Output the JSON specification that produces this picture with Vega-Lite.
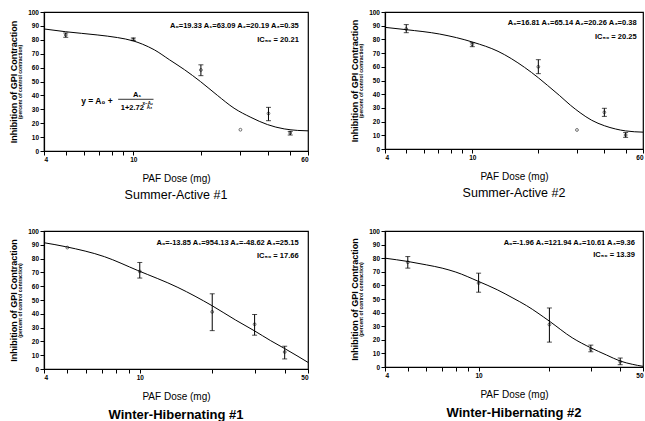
{
  "$schema": "https://vega.github.io/schema/vega-lite/v6.json",
  "padding": {"left": 8, "top": 8, "right": 0, "bottom": 0},
  "background": "white",
  "spacing": 24,
  "config": {
    "view": {"stroke": "black", "strokeWidth": 1.2},
    "axis": {"grid": false, "domainColor": "black", "domainWidth": 1.2, "tickColor": "black", "tickSize": 4, "labelColor": "black", "titleColor": "black", "labelFont": "Liberation Sans", "titleFont": "Liberation Sans", "labelFontSize": 6.5, "labelFontWeight": "bold", "titleFontWeight": "bold", "labelPadding": 1.5},
    "title": {"font": "Liberation Sans", "fontSize": 12.5, "fontWeight": "normal", "color": "black"},
    "text": {"font": "Liberation Sans", "color": "black"}
  },
  "datasets": {
    "pts": [
      {"panel": "SA1", "dose": 5, "mean": 83.5, "lo": 81.8, "hi": 84.9},
      {"panel": "SA1", "dose": 10, "mean": 80.3, "lo": 79.4, "hi": 81.3},
      {"panel": "SA1", "dose": 20, "mean": 58.3, "lo": 54.2, "hi": 62},
      {"panel": "SA1", "dose": 30, "mean": 15.3, "lo": null, "hi": null},
      {"panel": "SA1", "dose": 40, "mean": 27, "lo": 21.8, "hi": 31.4},
      {"panel": "SA1", "dose": 50, "mean": 13, "lo": 11.5, "hi": 14.1},
      {"panel": "SA2", "dose": 5, "mean": 87.6, "lo": 84.9, "hi": 90.8},
      {"panel": "SA2", "dose": 10, "mean": 76.4, "lo": 74.7, "hi": 77.6},
      {"panel": "SA2", "dose": 20, "mean": 60, "lo": 55, "hi": 65.2},
      {"panel": "SA2", "dose": 30, "mean": 13.9, "lo": null, "hi": null},
      {"panel": "SA2", "dose": 40, "mean": 26.8, "lo": 23.8, "hi": 29.7},
      {"panel": "SA2", "dose": 50, "mean": 10.2, "lo": 8.5, "hi": 12},
      {"panel": "WH1", "dose": 5, "mean": 88, "lo": null, "hi": null},
      {"panel": "WH1", "dose": 10, "mean": 70.7, "lo": 65.9, "hi": 77.2},
      {"panel": "WH1", "dose": 20, "mean": 41.4, "lo": 27.8, "hi": 54.5},
      {"panel": "WH1", "dose": 30, "mean": 32.4, "lo": 24.5, "hi": 39.5},
      {"panel": "WH1", "dose": 40, "mean": 12.3, "lo": 7.3, "hi": 16.5},
      {"panel": "WH2", "dose": 5, "mean": 77, "lo": 72.7, "hi": 81.2},
      {"panel": "WH2", "dose": 10, "mean": 61.7, "lo": 55, "hi": 69},
      {"panel": "WH2", "dose": 20, "mean": 31.2, "lo": 18.3, "hi": 43.4},
      {"panel": "WH2", "dose": 30, "mean": 13, "lo": 11.2, "hi": 16.1},
      {"panel": "WH2", "dose": 40, "mean": 3.9, "lo": 1.7, "hi": 6.6}
    ],
    "curve": [
      {"panel": "SA1", "dose": 4, "y": 87.8}, {"panel": "SA1", "dose": 5, "y": 85.8}, {"panel": "SA1", "dose": 6.9, "y": 83.5}, {"panel": "SA1", "dose": 8.5, "y": 81.6}, {"panel": "SA1", "dose": 10, "y": 79.2}, {"panel": "SA1", "dose": 11, "y": 76.8}, {"panel": "SA1", "dose": 12.4, "y": 72.8}, {"panel": "SA1", "dose": 14.5, "y": 65.6}, {"panel": "SA1", "dose": 16.9, "y": 58.5}, {"panel": "SA1", "dose": 19.9, "y": 50}, {"panel": "SA1", "dose": 23.7, "y": 40}, {"panel": "SA1", "dose": 28.1, "y": 30.8}, {"panel": "SA1", "dose": 33.4, "y": 24.2}, {"panel": "SA1", "dose": 39.6, "y": 19}, {"panel": "SA1", "dose": 47, "y": 15.9}, {"panel": "SA1", "dose": 54, "y": 14.8}, {"panel": "SA1", "dose": 60, "y": 14.5},
      {"panel": "SA2", "dose": 4, "y": 88.8}, {"panel": "SA2", "dose": 5, "y": 87.1}, {"panel": "SA2", "dose": 7.1, "y": 83.9}, {"panel": "SA2", "dose": 10.1, "y": 77.9}, {"panel": "SA2", "dose": 13.1, "y": 71.3}, {"panel": "SA2", "dose": 17.3, "y": 59.6}, {"panel": "SA2", "dose": 20, "y": 52}, {"panel": "SA2", "dose": 22, "y": 46.5}, {"panel": "SA2", "dose": 25, "y": 39}, {"panel": "SA2", "dose": 28, "y": 32}, {"panel": "SA2", "dose": 31, "y": 26.5}, {"panel": "SA2", "dose": 35, "y": 21}, {"panel": "SA2", "dose": 40, "y": 17}, {"panel": "SA2", "dose": 45, "y": 14.6}, {"panel": "SA2", "dose": 50, "y": 13.2}, {"panel": "SA2", "dose": 60, "y": 12.3},
      {"panel": "WH1", "dose": 4, "y": 91.5}, {"panel": "WH1", "dose": 4.93, "y": 88.6}, {"panel": "WH1", "dose": 7.13, "y": 81.4}, {"panel": "WH1", "dose": 9.8, "y": 71.4}, {"panel": "WH1", "dose": 14.4, "y": 59.1}, {"panel": "WH1", "dose": 20, "y": 45.8}, {"panel": "WH1", "dose": 25, "y": 35.5}, {"panel": "WH1", "dose": 30, "y": 27.6}, {"panel": "WH1", "dose": 35, "y": 20.5}, {"panel": "WH1", "dose": 40, "y": 14.8}, {"panel": "WH1", "dose": 45, "y": 9.6}, {"panel": "WH1", "dose": 50, "y": 4.8},
      {"panel": "WH2", "dose": 4, "y": 80}, {"panel": "WH2", "dose": 5, "y": 77.6}, {"panel": "WH2", "dose": 6, "y": 75.1}, {"panel": "WH2", "dose": 7, "y": 72.7}, {"panel": "WH2", "dose": 8, "y": 69.8}, {"panel": "WH2", "dose": 10, "y": 62.9}, {"panel": "WH2", "dose": 12, "y": 56.8}, {"panel": "WH2", "dose": 14, "y": 50.7}, {"panel": "WH2", "dose": 16, "y": 45.1}, {"panel": "WH2", "dose": 20, "y": 33.7}, {"panel": "WH2", "dose": 25, "y": 21.5}, {"panel": "WH2", "dose": 30, "y": 14.1}, {"panel": "WH2", "dose": 35, "y": 8.8}, {"panel": "WH2", "dose": 40, "y": 4.4}, {"panel": "WH2", "dose": 45, "y": 2}, {"panel": "WH2", "dose": 50, "y": 0.5}
    ]
  },
  "vconcat": [
    {
      "spacing": 38,
      "hconcat": [
        {
          "width": 264, "height": 139,
          "title": {"text": "Summer-Active #1", "orient": "bottom", "offset": 6},
          "layer": [
            {"data": {"name": "curve"}, "transform": [{"filter": "datum.panel==='SA1'"}], "mark": {"type": "line", "color": "black", "strokeWidth": 1, "interpolate": "monotone"},
             "encoding": {
               "x": {"field": "dose", "type": "quantitative", "scale": {"type": "log", "domain": [4, 60], "nice": false}, "axis": {"values": [4, 5, 6, 7, 8, 9, 10, 20, 30, 40, 50, 60], "labelExpr": "datum.value==4||datum.value==10||datum.value==60 ? datum.value+'' : ''", "labelOverlap": false, "title": "PAF Dose (mg)", "titleFontSize": 10, "titleFontWeight": "normal", "titlePadding": 10}},
               "y": {"field": "y", "type": "quantitative", "scale": {"domain": [0, 100], "nice": false}, "axis": {"values": [0, 10, 20, 30, 40, 50, 60, 70, 80, 90, 100], "title": "(percent of control contraction)", "titleFontSize": 5, "titlePadding": 5}}}},
            {"data": {"name": "pts"}, "transform": [{"filter": "datum.panel==='SA1'"}], "mark": {"type": "rule", "color": "black", "strokeWidth": 1},
             "encoding": {"x": {"field": "dose", "type": "quantitative", "axis": null}, "y": {"field": "lo", "type": "quantitative", "axis": null}, "y2": {"field": "hi"}}},
            {"data": {"name": "pts"}, "transform": [{"filter": "datum.panel==='SA1'"}], "mark": {"type": "tick", "orient": "horizontal", "color": "black", "size": 5, "thickness": 1},
             "encoding": {"x": {"field": "dose", "type": "quantitative", "axis": null}, "y": {"field": "lo", "type": "quantitative", "axis": null}}},
            {"data": {"name": "pts"}, "transform": [{"filter": "datum.panel==='SA1'"}], "mark": {"type": "tick", "orient": "horizontal", "color": "black", "size": 5, "thickness": 1},
             "encoding": {"x": {"field": "dose", "type": "quantitative", "axis": null}, "y": {"field": "hi", "type": "quantitative", "axis": null}}},
            {"data": {"name": "pts"}, "transform": [{"filter": "datum.panel==='SA1'"}], "mark": {"type": "point", "shape": "circle", "filled": false, "size": 8, "color": "black", "strokeWidth": 0.8},
             "encoding": {"x": {"field": "dose", "type": "quantitative", "axis": null}, "y": {"field": "mean", "type": "quantitative", "axis": {"orient": "left", "labels": false, "ticks": false, "domain": false, "title": "Inhibition of GPI Contraction", "titleFontSize": 9, "titlePadding": 26}}}},
            {"data": {"values": [{}]}, "mark": {"type": "text", "text": "A₀=19.33  A₁=63.09  A₂=20.19  A₃=0.35", "align": "right", "baseline": "middle", "fontSize": 7.5, "fontWeight": "bold"},
             "encoding": {"x": {"datum": 54.6, "axis": null}, "y": {"datum": 90.2, "axis": null}}},
            {"data": {"values": [{}]}, "mark": {"type": "text", "text": "IC₅₀ = 20.21", "align": "right", "baseline": "middle", "fontSize": 7.5, "fontWeight": "bold"},
             "encoding": {"x": {"datum": 54.6, "axis": null}, "y": {"datum": 80.1, "axis": null}}},
            {"data": {"values": [{}]}, "mark": {"type": "text", "text": "y = A₀ +", "align": "left", "baseline": "middle", "fontSize": 8.5, "fontWeight": "bold"},
             "encoding": {"x": {"datum": 5.86, "axis": null}, "y": {"datum": 36.2, "axis": null}}},
            {"data": {"values": [{}]}, "mark": {"type": "rule", "color": "black", "strokeWidth": 0.8},
             "encoding": {"x": {"datum": 8.56, "axis": null}, "x2": {"datum": 12.3}, "y": {"datum": 37.2, "axis": null}}},
            {"data": {"values": [{}]}, "mark": {"type": "text", "text": "A₁", "align": "center", "baseline": "middle", "fontSize": 7.5, "fontWeight": "bold"},
             "encoding": {"x": {"datum": 10.4, "axis": null}, "y": {"datum": 40.5, "axis": null}}},
            {"data": {"values": [{}]}, "mark": {"type": "text", "text": "1+2.72", "align": "center", "baseline": "middle", "fontSize": 7.5, "fontWeight": "bold"},
             "encoding": {"x": {"datum": 9.9, "axis": null}, "y": {"datum": 30.7, "axis": null}}},
            {"data": {"values": [{}]}, "mark": {"type": "text", "text": "x−A₂", "align": "center", "baseline": "middle", "fontSize": 4.5, "fontWeight": "bold"},
             "encoding": {"x": {"datum": 11.6, "axis": null}, "y": {"datum": 34, "axis": null}}},
            {"data": {"values": [{}]}, "mark": {"type": "text", "text": "A₃", "align": "center", "baseline": "middle", "fontSize": 4.5, "fontWeight": "bold"},
             "encoding": {"x": {"datum": 11.8, "axis": null}, "y": {"datum": 30.8, "axis": null}}}
          ],
          "resolve": {"axis": {"x": "independent", "y": "independent"}}
        },
        {
          "width": 258, "height": 137,
          "title": {"text": "Summer-Active #2", "orient": "bottom", "offset": 6},
          "layer": [
            {"data": {"name": "curve"}, "transform": [{"filter": "datum.panel==='SA2'"}], "mark": {"type": "line", "color": "black", "strokeWidth": 1, "interpolate": "monotone"},
             "encoding": {
               "x": {"field": "dose", "type": "quantitative", "scale": {"type": "log", "domain": [4, 60], "nice": false}, "axis": {"values": [4, 5, 6, 7, 8, 9, 10, 20, 30, 40, 50, 60], "labelExpr": "datum.value==4||datum.value==10||datum.value==60 ? datum.value+'' : ''", "labelOverlap": false, "title": "PAF Dose (mg)", "titleFontSize": 10, "titleFontWeight": "normal", "titlePadding": 10}},
               "y": {"field": "y", "type": "quantitative", "scale": {"domain": [0, 100], "nice": false}, "axis": {"values": [0, 10, 20, 30, 40, 50, 60, 70, 80, 90, 100], "title": "(percent of control contraction)", "titleFontSize": 5, "titlePadding": 5}}}},
            {"data": {"name": "pts"}, "transform": [{"filter": "datum.panel==='SA2'"}], "mark": {"type": "rule", "color": "black", "strokeWidth": 1},
             "encoding": {"x": {"field": "dose", "type": "quantitative", "axis": null}, "y": {"field": "lo", "type": "quantitative", "axis": null}, "y2": {"field": "hi"}}},
            {"data": {"name": "pts"}, "transform": [{"filter": "datum.panel==='SA2'"}], "mark": {"type": "tick", "orient": "horizontal", "color": "black", "size": 5, "thickness": 1},
             "encoding": {"x": {"field": "dose", "type": "quantitative", "axis": null}, "y": {"field": "lo", "type": "quantitative", "axis": null}}},
            {"data": {"name": "pts"}, "transform": [{"filter": "datum.panel==='SA2'"}], "mark": {"type": "tick", "orient": "horizontal", "color": "black", "size": 5, "thickness": 1},
             "encoding": {"x": {"field": "dose", "type": "quantitative", "axis": null}, "y": {"field": "hi", "type": "quantitative", "axis": null}}},
            {"data": {"name": "pts"}, "transform": [{"filter": "datum.panel==='SA2'"}], "mark": {"type": "point", "shape": "circle", "filled": false, "size": 8, "color": "black", "strokeWidth": 0.8},
             "encoding": {"x": {"field": "dose", "type": "quantitative", "axis": null}, "y": {"field": "mean", "type": "quantitative", "axis": {"orient": "left", "labels": false, "ticks": false, "domain": false, "title": "Inhibition of GPI Contraction", "titleFontSize": 9, "titlePadding": 26}}}},
            {"data": {"values": [{}]}, "mark": {"type": "text", "text": "A₀=16.81  A₁=65.14  A₂=20.26  A₃=0.38", "align": "right", "baseline": "middle", "fontSize": 7.5, "fontWeight": "bold"},
             "encoding": {"x": {"datum": 56.1, "axis": null}, "y": {"datum": 91.7, "axis": null}}},
            {"data": {"values": [{}]}, "mark": {"type": "text", "text": "IC₅₀ = 20.25", "align": "right", "baseline": "middle", "fontSize": 7.5, "fontWeight": "bold"},
             "encoding": {"x": {"datum": 56.1, "axis": null}, "y": {"datum": 81.5, "axis": null}}}
          ],
          "resolve": {"axis": {"x": "independent", "y": "independent"}}
        }
      ]
    },
    {
      "spacing": 38,
      "hconcat": [
        {
          "width": 264, "height": 138,
          "title": {"text": "Winter-Hibernating #1", "orient": "bottom", "offset": 8, "fontSize": 13, "fontWeight": "bold"},
          "layer": [
            {"data": {"name": "curve"}, "transform": [{"filter": "datum.panel==='WH1'"}], "mark": {"type": "line", "color": "black", "strokeWidth": 1, "interpolate": "monotone"},
             "encoding": {
               "x": {"field": "dose", "type": "quantitative", "scale": {"type": "log", "domain": [4, 50], "nice": false}, "axis": {"values": [4, 5, 6, 7, 8, 9, 10, 20, 30, 40, 50], "labelExpr": "datum.value==4||datum.value==10||datum.value==50 ? datum.value+'' : ''", "labelOverlap": false, "title": "PAF Dose (mg)", "titleFontSize": 10, "titleFontWeight": "normal", "titlePadding": 10}},
               "y": {"field": "y", "type": "quantitative", "scale": {"domain": [0, 100], "nice": false}, "axis": {"values": [0, 10, 20, 30, 40, 50, 60, 70, 80, 90, 100], "title": "(percent of control contraction)", "titleFontSize": 5, "titlePadding": 5}}}},
            {"data": {"name": "pts"}, "transform": [{"filter": "datum.panel==='WH1'"}], "mark": {"type": "rule", "color": "black", "strokeWidth": 1},
             "encoding": {"x": {"field": "dose", "type": "quantitative", "axis": null}, "y": {"field": "lo", "type": "quantitative", "axis": null}, "y2": {"field": "hi"}}},
            {"data": {"name": "pts"}, "transform": [{"filter": "datum.panel==='WH1'"}], "mark": {"type": "tick", "orient": "horizontal", "color": "black", "size": 5, "thickness": 1},
             "encoding": {"x": {"field": "dose", "type": "quantitative", "axis": null}, "y": {"field": "lo", "type": "quantitative", "axis": null}}},
            {"data": {"name": "pts"}, "transform": [{"filter": "datum.panel==='WH1'"}], "mark": {"type": "tick", "orient": "horizontal", "color": "black", "size": 5, "thickness": 1},
             "encoding": {"x": {"field": "dose", "type": "quantitative", "axis": null}, "y": {"field": "hi", "type": "quantitative", "axis": null}}},
            {"data": {"name": "pts"}, "transform": [{"filter": "datum.panel==='WH1'"}], "mark": {"type": "point", "shape": "circle", "filled": false, "size": 8, "color": "black", "strokeWidth": 0.8},
             "encoding": {"x": {"field": "dose", "type": "quantitative", "axis": null}, "y": {"field": "mean", "type": "quantitative", "axis": {"orient": "left", "labels": false, "ticks": false, "domain": false, "title": "Inhibition of GPI Contraction", "titleFontSize": 9, "titlePadding": 26}}}},
            {"data": {"values": [{}]}, "mark": {"type": "text", "text": "A₀=-13.85  A₁=954.13  A₂=-48.62  A₃=25.15", "align": "right", "baseline": "middle", "fontSize": 7.5, "fontWeight": "bold"},
             "encoding": {"x": {"datum": 45.7, "axis": null}, "y": {"datum": 91.3, "axis": null}}},
            {"data": {"values": [{}]}, "mark": {"type": "text", "text": "IC₅₀ = 17.66", "align": "right", "baseline": "middle", "fontSize": 7.5, "fontWeight": "bold"},
             "encoding": {"x": {"datum": 45.7, "axis": null}, "y": {"datum": 81.6, "axis": null}}}
          ],
          "resolve": {"axis": {"x": "independent", "y": "independent"}}
        },
        {
          "width": 258, "height": 136,
          "title": {"text": "Winter-Hibernating #2", "orient": "bottom", "offset": 8, "fontSize": 13, "fontWeight": "bold"},
          "layer": [
            {"data": {"name": "curve"}, "transform": [{"filter": "datum.panel==='WH2'"}], "mark": {"type": "line", "color": "black", "strokeWidth": 1, "interpolate": "monotone"},
             "encoding": {
               "x": {"field": "dose", "type": "quantitative", "scale": {"type": "log", "domain": [4, 50], "nice": false}, "axis": {"values": [4, 5, 6, 7, 8, 9, 10, 20, 30, 40, 50], "labelExpr": "datum.value==4||datum.value==10||datum.value==50 ? datum.value+'' : ''", "labelOverlap": false, "title": "PAF Dose (mg)", "titleFontSize": 10, "titleFontWeight": "normal", "titlePadding": 10}},
               "y": {"field": "y", "type": "quantitative", "scale": {"domain": [0, 100], "nice": false}, "axis": {"values": [0, 10, 20, 30, 40, 50, 60, 70, 80, 90, 100], "title": "(percent of control contraction)", "titleFontSize": 5, "titlePadding": 5}}}},
            {"data": {"name": "pts"}, "transform": [{"filter": "datum.panel==='WH2'"}], "mark": {"type": "rule", "color": "black", "strokeWidth": 1},
             "encoding": {"x": {"field": "dose", "type": "quantitative", "axis": null}, "y": {"field": "lo", "type": "quantitative", "axis": null}, "y2": {"field": "hi"}}},
            {"data": {"name": "pts"}, "transform": [{"filter": "datum.panel==='WH2'"}], "mark": {"type": "tick", "orient": "horizontal", "color": "black", "size": 5, "thickness": 1},
             "encoding": {"x": {"field": "dose", "type": "quantitative", "axis": null}, "y": {"field": "lo", "type": "quantitative", "axis": null}}},
            {"data": {"name": "pts"}, "transform": [{"filter": "datum.panel==='WH2'"}], "mark": {"type": "tick", "orient": "horizontal", "color": "black", "size": 5, "thickness": 1},
             "encoding": {"x": {"field": "dose", "type": "quantitative", "axis": null}, "y": {"field": "hi", "type": "quantitative", "axis": null}}},
            {"data": {"name": "pts"}, "transform": [{"filter": "datum.panel==='WH2'"}], "mark": {"type": "point", "shape": "circle", "filled": false, "size": 8, "color": "black", "strokeWidth": 0.8},
             "encoding": {"x": {"field": "dose", "type": "quantitative", "axis": null}, "y": {"field": "mean", "type": "quantitative", "axis": {"orient": "left", "labels": false, "ticks": false, "domain": false, "title": "Inhibition of GPI Contraction", "titleFontSize": 9, "titlePadding": 26}}}},
            {"data": {"values": [{}]}, "mark": {"type": "text", "text": "A₀=-1.96  A₁=121.94  A₂=10.61  A₃=9.36", "align": "right", "baseline": "middle", "fontSize": 7.5, "fontWeight": "bold"},
             "encoding": {"x": {"datum": 46.2, "axis": null}, "y": {"datum": 91.5, "axis": null}}},
            {"data": {"values": [{}]}, "mark": {"type": "text", "text": "IC₅₀ = 13.39", "align": "right", "baseline": "middle", "fontSize": 7.5, "fontWeight": "bold"},
             "encoding": {"x": {"datum": 46.2, "axis": null}, "y": {"datum": 82.4, "axis": null}}}
          ],
          "resolve": {"axis": {"x": "independent", "y": "independent"}}
        }
      ]
    }
  ]
}
